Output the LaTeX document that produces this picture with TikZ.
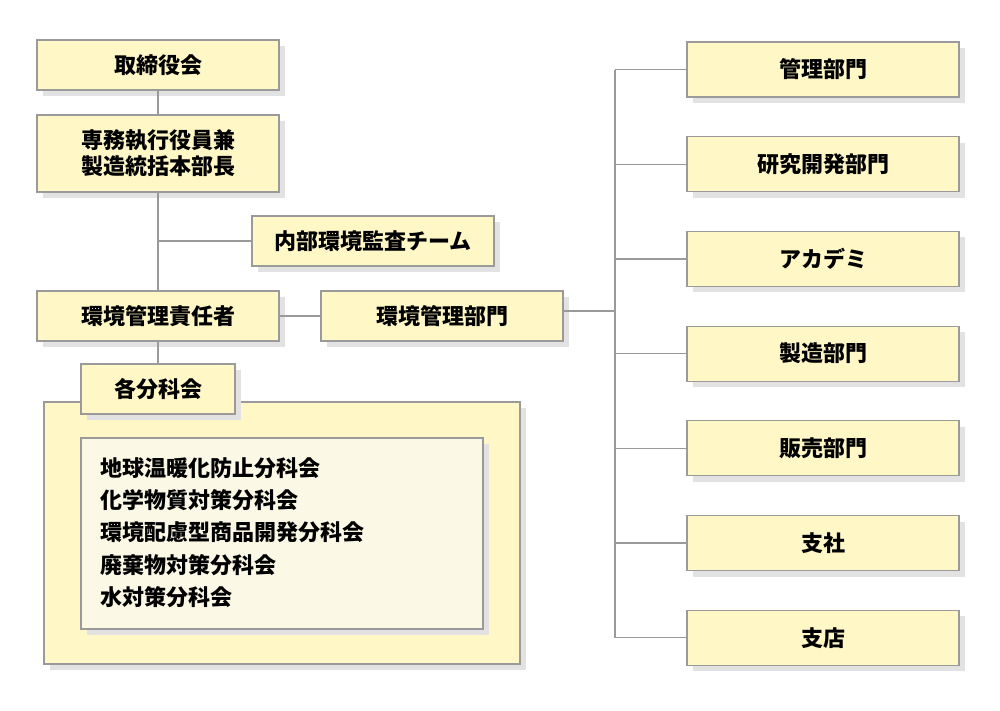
\documentclass[tikz,border=0pt]{standalone}
\usepackage{fontspec}
\setmainfont{Noto Sans CJK JP}[BoldFont={Noto Sans CJK JP Black}]
\usetikzlibrary{shadows}

\definecolor{boxfill}{HTML}{FFF7C6}
\definecolor{innerfill}{HTML}{FCF8E6}
\definecolor{edgegray}{HTML}{9A9A9A}
\definecolor{shadowgray}{HTML}{E2E2E2}

\begin{document}
\begin{tikzpicture}[x=1pt, y=-1pt,
    % --- styles ---
    labelfont/.style={font=\fontsize{22}{32.3}\selectfont\bfseries},
    orgbox/.style={draw=edgegray, line width=1.2pt, fill=boxfill,
        drop shadow={shadow xshift=6pt, shadow yshift=-6pt, fill=shadowgray, opacity=1},
        labelfont, align=center, inner sep=0pt},
    leftbox/.style={orgbox, minimum width=242pt, minimum height=50pt},
    deptbox/.style={orgbox, minimum width=272pt, minimum height=55pt},
    link/.style={draw=edgegray, line width=1.2pt}
]
    \useasboundingbox (0,0) rectangle (1000,710);

    % =========================================
    % left column
    % =========================================
    \node[leftbox] (board) at (158,65) {取締役会};
    \node[leftbox, minimum height=77pt, font=\fontsize{22}{26}\selectfont\bfseries] (director) at (158,153.5)
        {専務執行役員兼\\製造統括本部長};
    \node[leftbox] (audit) at (373,241) {内部環境監査チーム};
    \node[leftbox] (manager) at (158,316) {環境管理責任者};
    \node[leftbox] (envdept) at (442,316) {環境管理部門};

    % --- committees (big box first, title box on top) ---
    \node[orgbox, minimum width=476pt, minimum height=262pt] (panel) at (282,533) {};
    \node[orgbox, fill=innerfill, minimum width=402pt, minimum height=191pt] (inner) at (282,533.5) {};
    \node[labelfont, align=left, anchor=west, inner sep=0pt] (list) at (100,532.5)
        {地球温暖化防止分科会\\化学物質対策分科会\\環境配慮型商品開発分科会\\廃棄物対策分科会\\水対策分科会};
    \node[leftbox, minimum width=154pt] (committee) at (158,389) {各分科会};

    % --- connectors ---
    \draw[link] (board) -- (director);
    \draw[link] (director) -- (manager);
    \draw[link] (manager) -- (committee);
    \draw[link] (audit.west) -- (audit.west -| director.south);
    \draw[link] (manager) -- (envdept);

    % =========================================
    % right column (departments)
    % =========================================
    \foreach \name [count=\i] in {管理部門, 研究開発部門, アカデミ, 製造部門, 販売部門, 支社, 支店}
        \node[deptbox] (dept\i) at (823,{69.5+94.7*(\i-1)}) {\name};

    \coordinate (bus) at (615,311);
    \draw[link] (envdept.east |- bus) -- (bus);
    \draw[link] (bus |- dept1.west) -- (bus |- dept7.west);
    \foreach \i in {1,...,7}
        \draw[link] (bus |- dept\i.west) -- (dept\i.west);

\end{tikzpicture}
\end{document}
